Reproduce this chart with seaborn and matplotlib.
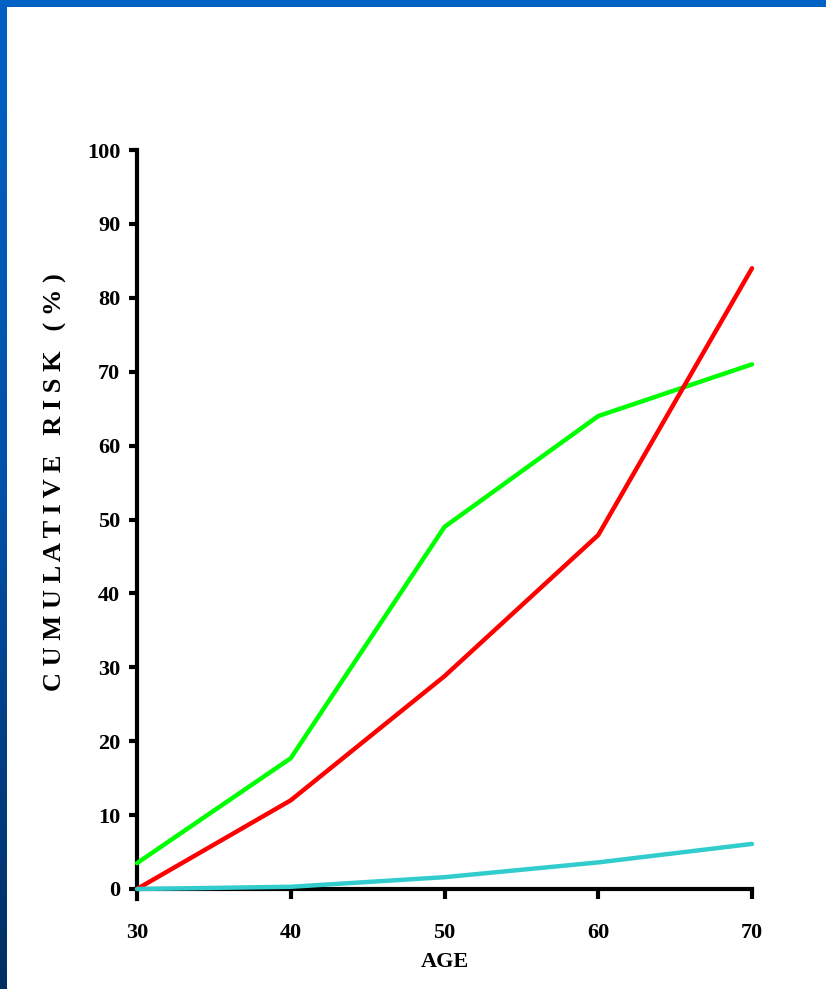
import numpy as np
import pandas as pd
import seaborn as sns
import matplotlib.pyplot as plt
from matplotlib.colors import LinearSegmentedColormap

# values
ages = [30, 40, 50, 60, 70]
green_risk = [3.5, 17.7, 49.0, 64.0, 71.0]
red_risk = [0.0, 12.0, 28.8, 47.9, 84.0]
cyan_risk = [0.0, 0.3, 1.6, 3.6, 6.1]
series_names = ["green", "red", "cyan"]
yticks = list(range(0, 101, 10))
xticks = [30, 40, 50, 60, 70]

df = pd.DataFrame({
    "age": ages * 3,
    "risk": green_risk + red_risk + cyan_risk,
    "series": np.repeat(series_names, len(ages)),
})

sns.set_theme(style="white")
plt.rcParams["font.family"] = ["Liberation Serif", "DejaVu Serif"]
plt.rcParams["font.weight"] = "bold"
plt.rcParams["text.color"] = "black"
plt.rcParams["ytick.labelcolor"] = "black"

fig = plt.figure(figsize=(8.26, 9.89), dpi=100)
fig.patch.set_facecolor("white")

# slide frame: top bar and left gradient bar
top = fig.add_axes([0, 1 - 7 / 989, 1, 7 / 989])
top.set_facecolor("#0062c4")
top.set_xticks([])
top.set_yticks([])
for s in top.spines.values():
    s.set_visible(False)
left = fig.add_axes([0, 0, 7 / 826, 1])
grad = np.linspace(0, 1, 256).reshape(-1, 1)
cm = LinearSegmentedColormap.from_list("frame", ["#0062c4", "#0050a8", "#002f62"])
left.imshow(grad, aspect="auto", cmap=cm, extent=[0, 1, 0, 1])
left.axis("off")

ymin = -1.3
px_per_unit = (889 - 150) / 100
bottom_px = 889 + (-ymin) * px_per_unit
ax = fig.add_axes([137 / 826, (989 - bottom_px) / 989,
                   (752 - 137) / 826, (bottom_px - 150) / 989])
sns.lineplot(
    data=df, x="age", y="risk", hue="series", ax=ax,
    palette={"green": "#00ff00", "red": "#ff0000", "cyan": "#33cccc"},
    linewidth=3.2, legend=False, zorder=5, clip_on=False,
)
ax.set_xlim(30, 70)
ax.set_ylim(ymin, 100)
ax.set_facecolor("white")
ax.spines["top"].set_visible(False)
ax.spines["right"].set_visible(False)
ax.spines["bottom"].set_position(("data", 0))
ax.spines["left"].set_bounds(ymin, 100)
for s in ["left", "bottom"]:
    ax.spines[s].set_linewidth(3)
    ax.spines[s].set_color("black")
ax.set_xticks(xticks[1:])
ax.set_xticklabels([])
ax.set_yticks(yticks)
ax.tick_params(axis="y", direction="out", length=6, width=3, color="black",
               labelsize=16, labelcolor="black", pad=6, left=True)
ax.tick_params(axis="x", direction="out", length=7, width=3, color="black",
               bottom=True)
for lab in ax.get_yticklabels():
    lab.set_fontweight("bold")
for a in xticks:
    ax.text(a, -4.6, str(a), ha="center", va="top", fontsize=16,
            fontweight="bold", color="black")
ax.set_xlabel("")
ax.set_ylabel("")
fig.text(445 / 826, 1 - 962 / 989, "AGE", ha="center", va="center",
         fontsize=16, fontweight="bold", color="black")
fig.text(55 / 826, 1 - 482 / 989, "C U M U L A T I V E   R I S K   ( % )",
         rotation=90, ha="center", va="center", fontsize=19,
         fontweight="bold", color="black")

fig.savefig("out.png", dpi=100)
